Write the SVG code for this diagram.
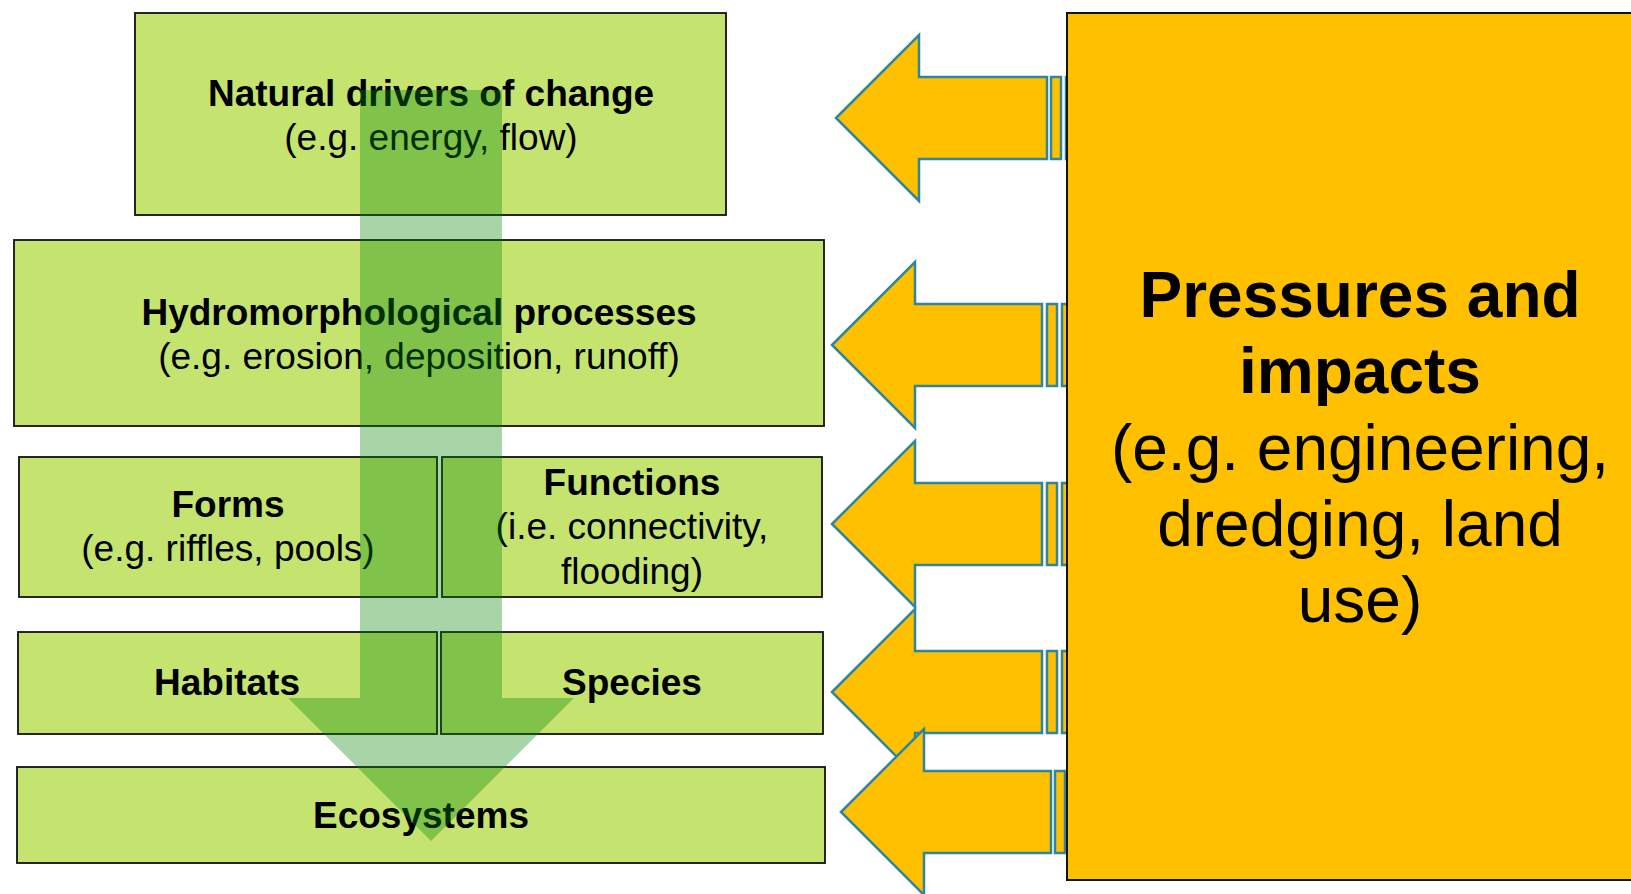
<svg xmlns="http://www.w3.org/2000/svg" width="1631" height="894" viewBox="0 0 1631 894">
  <defs>
    <style>
      .box { fill: #c4e46f; stroke: #111; stroke-width: 1.8; }
      .lbl { font-family: "Liberation Sans", Arial, sans-serif; font-size: 37px; fill: #000; text-anchor: middle; }
      .b { font-weight: bold; }
      .big { font-family: "Liberation Sans", Arial, sans-serif; font-size: 64px; fill: #000; text-anchor: middle; }
      .push { fill: #ffc000; stroke: #31859c; stroke-width: 2.5; stroke-linejoin: miter; }
      .flow { fill: #078507; fill-opacity: 0.35; }
    </style>
  </defs>
  <rect width="1631" height="894" fill="#fff"/>

  <!-- hierarchy of river processes -->
  <g id="natural-drivers">
    <rect class="box" x="135" y="13" width="591" height="202"/>
    <text class="lbl b" x="431" y="106">Natural drivers of change</text>
    <text class="lbl" x="431" y="150">(e.g. energy, flow)</text>
  </g>
  <g id="hydromorphological">
    <rect class="box" x="14" y="240" width="810" height="186"/>
    <text class="lbl b" x="419" y="325">Hydromorphological processes</text>
    <text class="lbl" x="419" y="369">(e.g. erosion, deposition, runoff)</text>
  </g>
  <g id="forms">
    <rect class="box" x="19" y="457" width="418" height="140"/>
    <text class="lbl b" x="228" y="517">Forms</text>
    <text class="lbl" x="228" y="561">(e.g. riffles, pools)</text>
  </g>
  <g id="functions">
    <rect class="box" x="442" y="457" width="380" height="140"/>
    <text class="lbl b" x="632" y="495">Functions</text>
    <text class="lbl" x="632" y="539">(i.e. connectivity,</text>
    <text class="lbl" x="632" y="584">flooding)</text>
  </g>
  <g id="habitats">
    <rect class="box" x="18" y="632" width="419" height="102"/>
    <text class="lbl b" x="227" y="695">Habitats</text>
  </g>
  <g id="species">
    <rect class="box" x="441" y="632" width="382" height="102"/>
    <text class="lbl b" x="632" y="695">Species</text>
  </g>
  <g id="ecosystems">
    <rect class="box" x="17" y="767" width="808" height="96"/>
    <text class="lbl b" x="421" y="828">Ecosystems</text>
  </g>

  <g id="connectors">
    <!-- downward cascade -->
    <path class="flow" d="M360,90 H502 V698 H574 L431,841 L288,698 H360 Z"/>
    <!-- pressures acting on each level -->
    <g id="push-1">
      <path class="push" d="M836,118 L919,35 V77 H1047 V159 H919 V201 Z"/>
      <rect class="push" x="1051" y="77" width="10" height="82"/>
      <rect class="push" x="1066" y="77" width="10" height="82"/>
    </g>
    <g id="push-2">
      <path class="push" d="M832,345 L915,262 V304 H1042 V386 H915 V428 Z"/>
      <rect class="push" x="1047" y="304" width="10" height="82"/>
      <rect class="push" x="1062" y="304" width="10" height="82"/>
    </g>
    <g id="push-3">
      <path class="push" d="M832,524 L915,441 V483 H1042 V565 H915 V607 Z"/>
      <rect class="push" x="1047" y="483" width="10" height="82"/>
      <rect class="push" x="1062" y="483" width="10" height="82"/>
    </g>
    <g id="push-4">
      <path class="push" d="M832,692 L915,609 V651 H1042 V733 H915 V775 Z"/>
      <rect class="push" x="1047" y="651" width="10" height="82"/>
      <rect class="push" x="1062" y="651" width="10" height="82"/>
    </g>
    <g id="push-5">
      <path class="push" d="M841,812 L924,729 V771 H1051 V853 H924 V895 Z"/>
      <rect class="push" x="1055" y="771" width="10" height="82"/>
      <rect class="push" x="1070" y="771" width="10" height="82"/>
    </g>
  </g>

  <g id="pressures">
    <rect x="1067" y="13" width="600" height="867" fill="#ffc000" stroke="#111" stroke-width="2"/>
    <text class="big b" x="1360" y="317">Pressures and</text>
    <text class="big b" x="1360" y="393">impacts</text>
    <text class="big" x="1360" y="470">(e.g. engineering,</text>
    <text class="big" x="1360" y="546">dredging, land</text>
    <text class="big" x="1360" y="622">use)</text>
  </g>
</svg>
